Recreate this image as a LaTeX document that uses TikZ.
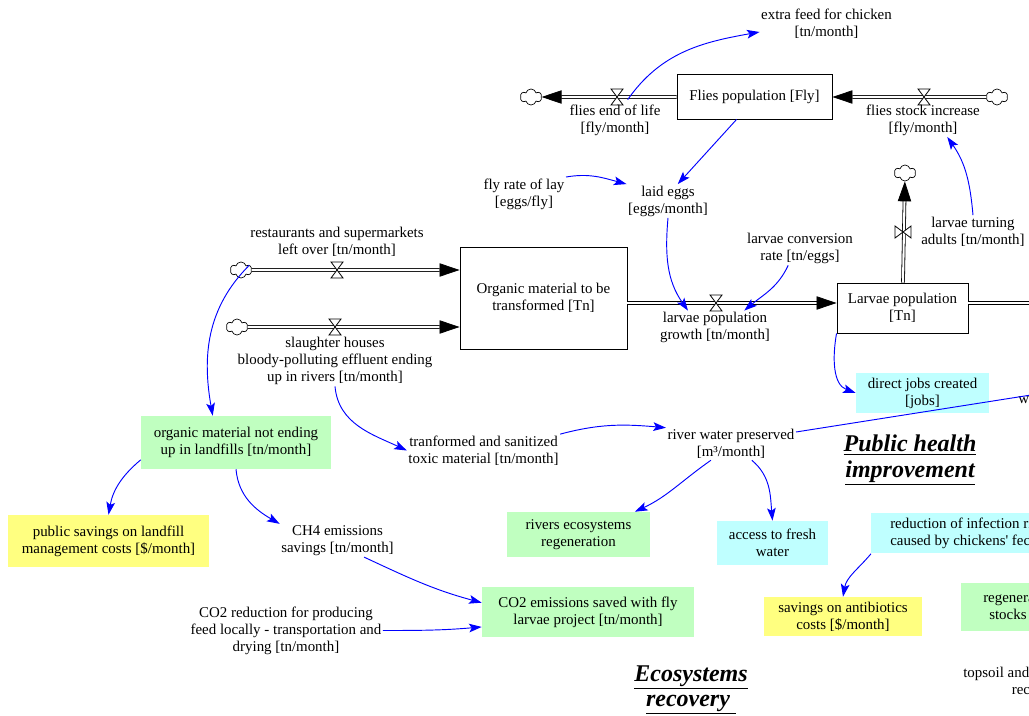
\documentclass[tikz,border=0pt]{standalone}
\usepackage{fontspec}
\setmainfont{Liberation Serif}
\newfontfamily\plainserif{Liberation Serif}
\usetikzlibrary{arrows.meta,shapes.symbols}
\definecolor{vgreen}{HTML}{C0FFC0}
\definecolor{vyellow}{HTML}{FFFF80}
\definecolor{vcyan}{HTML}{BFFFFF}
\begin{document}
\begin{tikzpicture}[x=0.75pt, y=-0.75pt,
  font=\fontsize{11.2}{12.75}\selectfont,
  var/.style={align=center, inner sep=1pt},
  stock/.style={draw, line width=0.7pt, fill=white, align=center, inner sep=0pt},
  box/.style={align=center, inner sep=0pt},
  cl/.style={cloud, cloud puffs=6, draw, fill=white, inner sep=0pt, minimum width=16pt, minimum height=12pt, line width=0.5pt},
  pipe/.style={double, double distance=1.55pt, line width=0.6pt, -{Triangle[length=15pt,width=10pt]}},
  link/.style={blue, line width=0.7pt, -{Stealth[length=9.5pt,width=6.5pt,inset=2pt]}},
  title/.style={align=center, font=\fontsize{18}{19}\selectfont\bfseries\itshape},
  valve/.pic={\draw[fill=white, line width=0.6pt] (-6,-8) -- (6,-8) -- (-6,8) -- (6,8) -- cycle;}]
\useasboundingbox (0,0) rectangle (1029,716);
\clip (0,0) rectangle (1029,716);

% stocks
\node[stock, minimum width=116.25pt, minimum height=33.75pt] (flies) at (754.5,96.5) {Flies population [Fly]};
\node[stock, minimum width=125.25pt, minimum height=76.5pt] (organic) at (543.5,298) {Organic material to be\\transformed [Tn]};
\node[stock, minimum width=98.25pt, minimum height=37.5pt] (larvae) at (902.5,308) {Larvae population\\{}[Tn]};

% sources and sinks
\node[cl] (c1) at (531,97) {};
\node[cl] (c2) at (997,97) {};
\node[cl] (c3) at (241,270) {};
\node[cl] (c4) at (237,327) {};
\node[cl] (c5) at (905,173) {};

\coordinate (v1) at (617,97);
\coordinate (v2) at (924,97);
\coordinate (v3) at (337,270);
\coordinate (v4) at (335,327);
\coordinate (v5) at (716,303);
\coordinate (v6) at (903,232);
\coordinate (out1) at (1080,303);
\coordinate (out2) at (1120,381);

% flows
\draw[pipe] (flies.west |- v1) -- (c1);
\draw[pipe] (c2) -- (flies.east |- v2);
\draw[pipe] (c3) -- (c3 -| organic.west);
\draw[pipe] (c4) -- (c4 -| organic.west);
\draw[pipe] (v5 -| organic.east) -- (v5 -| larvae.west);
\draw[pipe] (v6 |- larvae.north) -- (c5);
\draw[pipe, -] (v5 -| larvae.east) -- (out1);
\pic at (v1) {valve};
\pic at (v2) {valve};
\pic at (v3) {valve};
\pic at (v4) {valve};
\pic at (v5) {valve};
\pic[rotate=90] at (v6) {valve};

% variables
\node[var] (feed) at (826.5,24) {extra feed for chicken\\{}[tn/month]};
\node[var] (endlife) at (615,120) {flies end of life\\{}[fly/month]};
\node[var] (incr) at (923,120) {flies stock increase\\{}[fly/month]};
\node[var] (layrate) at (524,194) {fly rate of lay\\{}[eggs/fly]};
\node[var] (eggs) at (668,201) {laid eggs\\{}[eggs/month]};
\node[var] (conv) at (800,248.5) {larvae conversion\\rate [tn/eggs]};
\node[var] (rest) at (337,242) {restaurants and supermarkets\\left over [tn/month]};
\node[var] (slaught) at (335,361) {slaughter houses\\bloody-polluting effluent ending\\up in rivers [tn/month]};
\node[var] (growth) at (715,327.5) {larvae population\\growth [tn/month]};
\node[var] (turning) at (973,231.5) {larvae turning\\adults [tn/month]};
\node[var] (toxic) at (483.5,450.5) {tranformed and sanitized\\toxic material [tn/month]};
\node[var] (river) at (731,444) {river water preserved\\{}[m³/month]};
\node[var] (ch4) at (337.5,540.5) {CH4 emissions\\savings [tn/month]};
\node[var] (co2red) at (286,630.5) {CO2 reduction for producing\\feed locally - transportation and\\drying [tn/month]};
\node[var, anchor=west, inner sep=0pt] (water) at (1018,400) {water quality};
\node[var, anchor=west, inner sep=0pt] (topsoil) at (963,681) {topsoil and organic matter\\recovered};

% outcomes
\node[box, fill=vgreen, minimum width=142.5pt, minimum height=39.75pt] (nofill) at (236,442.5) {organic material not ending\\up in landfills [tn/month]};
\node[box, fill=vyellow, minimum width=150.75pt, minimum height=39pt] (landsave) at (108.5,541) {public savings on landfill\\management costs [\$/month]};
\node[box, fill=vgreen, minimum width=107.25pt, minimum height=33.75pt] (rivereco) at (578.5,534.5) {rivers ecosystems\\regeneration};
\node[box, fill=vcyan, minimum width=83.25pt, minimum height=33pt] (fresh) at (772.5,543) {access to fresh\\water};
\node[box, fill=vcyan, minimum width=99.75pt, minimum height=30pt] (jobs) at (922.5,393) {direct jobs created\\{}[jobs]};
\node[box, fill=vgreen, minimum width=159pt, minimum height=37.5pt] (co2) at (588,612) {CO2 emissions saved with fly\\larvae project [tn/month]};
\node[box, fill=vyellow, minimum width=118.5pt, minimum height=29.25pt] (antib) at (843,616.5) {savings on antibiotics\\costs [\$/month]};
\node[box, fill=vcyan, anchor=west, align=left, inner xsep=14.25pt, minimum height=30pt] (infect) at (871,533.5) {reduction of infection risk\\caused by chickens{\plainserif '} feces};
\node[box, fill=vgreen, anchor=west, inner xsep=16.5pt, minimum height=36pt] (regen) at (961,607) {regeneration of fish\\stocks [tn/month]};

\node[title] (health) at (910,460) {\underline{Public health}\\\underline{improvement}};
\node[title] (ecosys) at (691,690) {\underline{Ecosystems}\\\underline{recovery\ }};

% links
\draw[link] ([xshift=8pt,yshift=-2pt]v1) to[out=55,in=190] ([yshift=-6pt]feed.west);
\draw[link] (flies.232) -- (eggs.60);
\draw[link] (layrate.north east) to[out=10,in=165] (eggs.north west);
\draw[link] (eggs.south) to[out=-95,in=125] (growth.148);
\draw[link] (conv.235) to[out=-115,in=40] (growth.30);
\draw[link] (larvae.south west) to[out=-100,in=160] (jobs.west);
\draw[link] (turning.north) to[out=95,in=-55] (incr.-35);
\draw[link] (c3.30) to[out=225,in=100] (nofill.131);
\draw[link] (slaught.south) to[out=-85,in=155] (toxic.west);
\draw[link] (toxic.north east) to[out=15,in=175] (river.north west);
\draw[link] (river.219) to[out=-145,in=25] (rivereco.22);
\draw[link] (river.-38) to[out=-40,in=95] (fresh.north);
\draw[link] ([yshift=-13pt]nofill.west) to[out=-140,in=80] (landsave.north);
\draw[link] (nofill.south) to[out=-85,in=150] (ch4.north west);
\draw[link] (ch4.-32) to[out=-25,in=165] (co2.175);
\draw[link] (co2red.east) to[out=0,in=185] (co2.188);
\draw[link] (infect.south west) to[out=-130,in=80] (antib.north);
\draw[link] ([yshift=9pt]river.east) -- (out2);
\end{tikzpicture}
\end{document}
